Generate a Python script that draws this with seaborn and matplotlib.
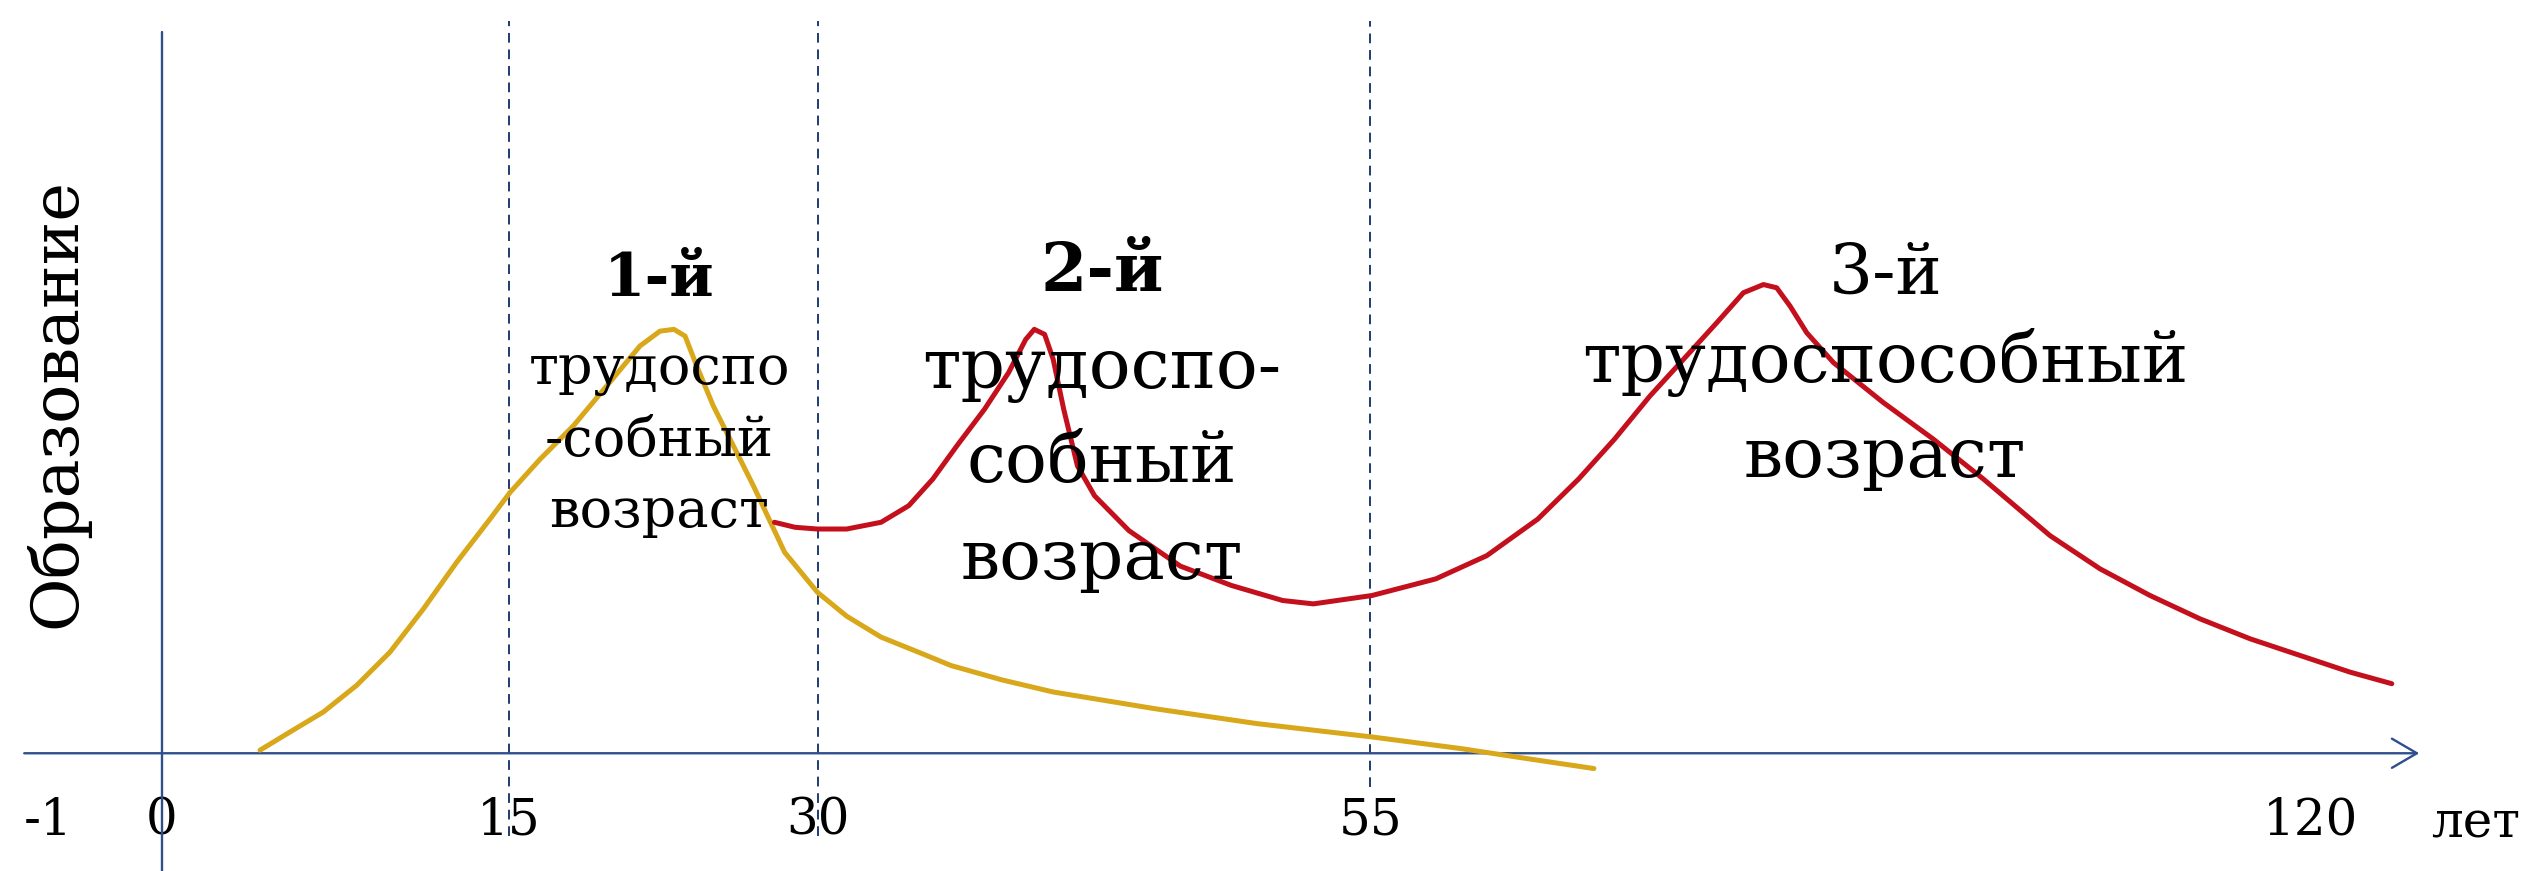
import numpy as np
import pandas as pd
import matplotlib
matplotlib.use("Agg")
import matplotlib.pyplot as plt
import seaborn as sns

# ---------------- data ----------------
tick_years = [-1, 0, 15, 30, 55, 120]
tick_labels = ["-1", "0", "15", "30", "55", "120"]
boundary_years = [15, 30, 55]
unit_label = "лет"
y_label = "Образование"

yellow_age = [4.249, 5.546, 6.984, 8.421, 9.858, 11.302, 12.739, 14.177, 15.047,
              16.508, 18.126, 19.743, 21.361, 22.335, 23.010, 23.552, 24.118,
              24.927, 25.901, 26.874, 28.390, 29.984, 31.308, 32.866, 34.678,
              36.031, 38.333, 40.643, 45.263, 49.868, 55.112, 61.254, 66.570,
              70.446]
yellow_level = [0.43, 2.97, 5.75, 9.46, 14.09, 20.11, 26.61, 32.63, 36.34,
                40.97, 45.62, 51.17, 56.74, 58.81, 59.06, 58.13, 53.96,
                48.38, 42.83, 37.26, 28.00, 22.43, 19.10, 16.18, 13.93,
                12.22, 10.22, 8.54, 6.20, 4.13, 2.27, 0.65, -0.97,
                -2.13]

red_age = [27.895, 28.901, 29.984, 31.308, 32.866, 34.116, 35.205, 36.294,
           37.544, 38.633, 39.408, 39.795, 40.263, 40.651, 41.126, 41.747,
           42.522, 44.079, 46.403, 48.720, 51.031, 52.419, 55.112, 59.512,
           63.041, 66.570, 69.385, 71.864, 74.321, 76.633, 78.934, 80.776,
           82.162, 83.077, 84.004, 85.155, 86.997, 90.449, 93.910, 97.362,
           101.974, 105.425, 108.876, 112.339, 115.789, 119.252, 121.729,
           123.571]
red_level = [32.18, 31.48, 31.24, 31.24, 32.18, 34.49, 38.20, 42.83,
             47.93, 53.03, 57.66, 59.06, 58.36, 54.88, 47.93, 40.04,
             35.87, 31.01, 26.07, 23.37, 21.28, 20.81, 21.98, 24.29,
             27.53, 32.63, 38.20, 43.75, 49.78, 54.88, 59.98, 64.16,
             65.30, 64.85, 62.29, 58.58, 54.43, 48.85, 43.75, 38.20,
             30.31, 25.69, 21.98, 18.72, 15.95, 13.62, 11.30,
             9.69]

group1 = ["1-й", "трудоспо", "-собный", "возраст"]
group2 = ["2-й", "трудоспо-", "собный", "возраст"]
group3 = ["3-й", "трудоспособный", "возраст"]

# ---------------- style ----------------
sns.set_theme(style="white")
plt.rcParams["font.family"] = ["DejaVu Serif", "DejaVu Sans"]

AXIS_BLUE = "#2E4F8C"
DASH_BLUE = "#213B70"
YELLOW = "#D8A71A"
RED = "#C3101C"

W, H = 1568.0, 540.0          # layout units (figure = 2534 x 871 px)
AX_Y = 467.0                  # position of the age axis

fig = plt.figure(figsize=(25.34, 8.71), dpi=100)
fig.patch.set_facecolor("white")
ax = fig.add_axes([0, (H - AX_Y) / H, 1, AX_Y / H])
ax.set_facecolor("white")

# schematic (piecewise-linear) age scale
scale_years = [-2, -1, 0, 15, 30, 55, 120, 135]
scale_pos = [-40, 30, 100, 315, 506, 848, 1430, 1640]


def fwd(v):
    return np.interp(np.asarray(v, dtype=float), scale_years, scale_pos)


def inv(p):
    return np.interp(np.asarray(p, dtype=float), scale_pos, scale_years)


ax.set_xscale("function", functions=(fwd, inv))
ax.set_xlim(float(inv(0)), float(inv(W)))
ax.set_ylim(0, AX_Y / 4.45)

df = pd.concat([
    pd.DataFrame({"age": yellow_age, "level": yellow_level, "series": "first"}),
    pd.DataFrame({"age": red_age, "level": red_level, "series": "second"}),
])
sns.lineplot(data=df, x="age", y="level", hue="series",
             palette={"first": YELLOW, "second": RED},
             estimator=None, sort=False, linewidth=3.6, legend=False, ax=ax)
for ln in ax.lines:
    ln.set_clip_on(False)
    ln.set_solid_capstyle("round")
    ln.set_solid_joinstyle("round")

# period boundaries
bottoms = [-0.11, -0.11, -0.045]
for yr, b in zip(boundary_years, bottoms):
    ax.axvline(yr, ymin=b, ymax=0.972, color=DASH_BLUE, lw=1.4,
               linestyle=(0, (5, 3.5)), clip_on=False, zorder=1)

# vertical axis
ax.axvline(0, ymin=-(H - AX_Y) / AX_Y, ymax=0.958, color=AXIS_BLUE, lw=1.7,
           clip_on=False, zorder=1)

# horizontal axis with arrow
ax.annotate("", xy=(1497 / W, 0), xycoords=("axes fraction", "data"),
            xytext=(15 / W, 0), textcoords=("axes fraction", "data"),
            arrowprops=dict(arrowstyle="->,head_length=0.6,head_width=0.35",
                            mutation_scale=30, color=AXIS_BLUE, lw=1.7,
                            shrinkA=0, shrinkB=0),
            annotation_clip=False, zorder=1)

for s in ax.spines.values():
    s.set_visible(False)
ax.set_yticks([])
ax.set_xticks(tick_years)
ax.set_xticklabels(tick_labels)
ax.tick_params(axis="x", length=0, pad=31, labelsize=36, colors="black")
ax.set_xlabel("")
ax.set_ylabel("")

fig.text(1532 / W, 1 - 519 / H, unit_label, ha="center", va="baseline",
         fontsize=36, color="black")
fig.text(35 / W, 1 - 250 / H, y_label, rotation=90, ha="center", va="center",
         fontsize=47, color="black")

# group texts: (lines, x centre, baselines, sizes)
layouts = [
    (group1, 408, [183.6, 238, 282.6, 326.8], [43, 39, 39, 39], True),
    (group2, 682, [180.5, 240.6, 299, 359], [48, 50, 50, 50], True),
    (group3, 1166.5, [182, 237, 295.6], [50, 50, 50], False),
]
for lines, xc, bases, sizes, bold in layouts:
    for i, (txt, b, sz) in enumerate(zip(lines, bases, sizes)):
        fig.text(xc / W, 1 - b / H, txt, ha="center", va="baseline",
                 fontsize=sz, color="black",
                 fontweight="bold" if (i == 0 and bold) else "normal")

fig.savefig("out.png", dpi=100, facecolor="white")
